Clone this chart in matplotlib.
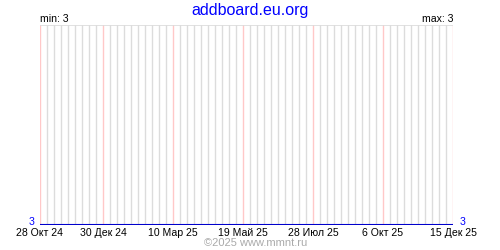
import matplotlib
matplotlib.use("Agg")
import matplotlib.pyplot as plt
import pandas as pd

# weekly series (all values equal to 3)
start_date = "2024-10-28"
end_date = "2025-12-15"
values = [3] * 60
tick_dates = ["2024-10-28", "2024-12-30", "2025-03-10", "2025-05-19",
              "2025-07-28", "2025-10-06", "2025-12-15"]
tick_labels = ["28 Окт 24", "30 Дек 24", "10 Мар 25", "19 Май 25",
               "28 Июл 25", "6 Окт 25", "15 Дек 25"]
title = "addboard.eu.org"
footer = "©2025 www.mmnt.ru"

weeks = pd.date_range(start_date, end_date, freq="7D")
ticks = pd.to_datetime(tick_dates)

plt.rcParams['font.family'] = ['Liberation Sans', 'DejaVu Sans']

fig = plt.figure(figsize=(5, 2.5), dpi=100)
W, H = 500, 250
ax = fig.add_axes([40 / W, (H - 225) / H, 413 / W, 200 / H])

# weekly gray lines, red every 10 weeks
for w in weeks:
    red = w in ticks
    ax.axvline(w, color='#ffc8c8' if red else '#dcdcdc', lw=1, zorder=1)
ax.axhline(4, color='#dcdcdc', lw=1.2, zorder=1)

ax.plot(weeks, values[:len(weeks)], color='#0000cc', lw=1.5, zorder=3,
        solid_capstyle='butt')

ax.set_xlim(weeks[0], weeks[-1])
ax.set_ylim(3, 4)
for s in ax.spines.values():
    s.set_visible(False)
ax.set_xticks(ticks)
ax.set_xticklabels(tick_labels, fontsize=7.6)
ax.tick_params(axis='x', length=0, pad=2)
ax.set_yticks([])

fig.text(250 / W, 1 - 10 / H, title, color='#0000ff', fontsize=11.5,
         ha='center', va='center')
fig.text(40 / W, 1 - 19 / H, "min: %d" % min(values), fontsize=7.6,
         ha='left', va='center')
fig.text(453 / W, 1 - 19 / H, "max: %d" % max(values), fontsize=7.6,
         ha='right', va='center')
fig.text(34 / W, 1 - 222 / H, str(values[0]), color='#0000ff', fontsize=7.6,
         ha='right', va='center')
fig.text(460 / W, 1 - 222 / H, str(values[-1]), color='#0000ff', fontsize=7.6,
         ha='left', va='center')
fig.text(256 / W, 1 - 243 / H, footer, color='#aaaaaa', fontsize=8,
         ha='center', va='center')

fig.savefig("out.png", dpi=100)
